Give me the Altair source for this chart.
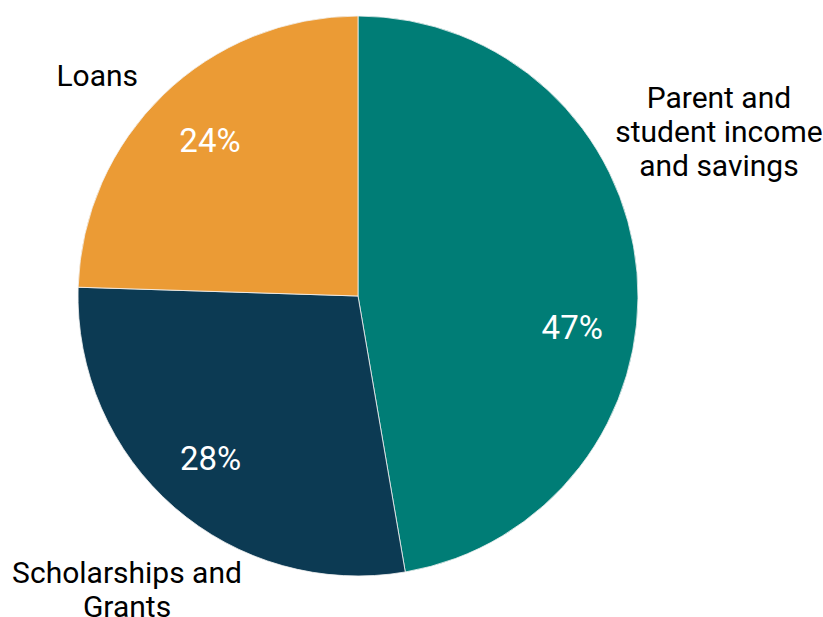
import altair as alt
import pandas as pd

categories = ["Parent and student income and savings", "Scholarships and Grants", "Loans"]
values = [47.3, 28.2, 24.5]
pct_labels = ["47%", "28%", "24%"]
ext_labels = [["Parent and", "student income", "and savings"], ["Scholarships and", "Grants"], ["Loans"]]
order = [1, 2, 3]
colors = ["#007D76", "#0C3A53", "#EB9B35"]

df = pd.DataFrame({
    "category": categories,
    "value": values,
    "pct": pct_labels,
    "ext": ext_labels,
    "order": order,
})

color_scale = alt.Scale(domain=categories, range=colors)

base = alt.Chart(df).transform_joinaggregate(
    total="sum(value)"
).transform_window(
    cum="sum(value)", sort=[alt.SortField("order")], frame=[None, 0]
).transform_calculate(
    mid="(datum.cum - datum.value / 2) / datum.total"
)

arcs = alt.Chart(df).mark_arc(outerRadius=280, stroke="#F2F2F2", strokeWidth=0.8).encode(
    theta=alt.Theta("value:Q", stack=True),
    color=alt.Color("category:N", scale=color_scale, legend=None),
    order=alt.Order("order:Q"),
)

theta_mid = alt.Theta("mid:Q", scale=alt.Scale(domain=[0, 1], range=[0, 6.283185307179586]), stack=None)

inner_offsets = {categories[0]: (-2, 51), categories[1]: (-5, 0), categories[2]: (3, 2)}
outer_offsets = {categories[0]: (62, -172), categories[1]: (-34, 52), categories[2]: (-52, -4)}

layers = [arcs]
for cat in categories:
    dx, dy = inner_offsets[cat]
    layers.append(
        base.transform_filter(alt.datum.category == cat).mark_text(
            radius=217, dx=dx, dy=dy, font="Roboto", fontSize=33, color="white",
            align="center", baseline="middle"
        ).encode(theta=theta_mid, text="pct:N")
    )
    dx, dy = outer_offsets[cat]
    layers.append(
        base.transform_filter(alt.datum.category == cat).mark_text(
            radius=300, dx=dx, dy=dy, font="Roboto", fontSize=30, color="black",
            align="center", baseline="middle", lineHeight=34
        ).encode(theta=theta_mid, text="ext")
    )

chart = alt.layer(*layers).properties(
    width=716, height=592,
    autosize=alt.AutoSizeParams(type="none"),
    padding={"left": 0, "top": 0, "right": 107, "bottom": 25},
).resolve_scale(theta="independent").configure_view(stroke=None)

chart.save("out.html", embed_options={"renderer": "svg", "actions": False})
